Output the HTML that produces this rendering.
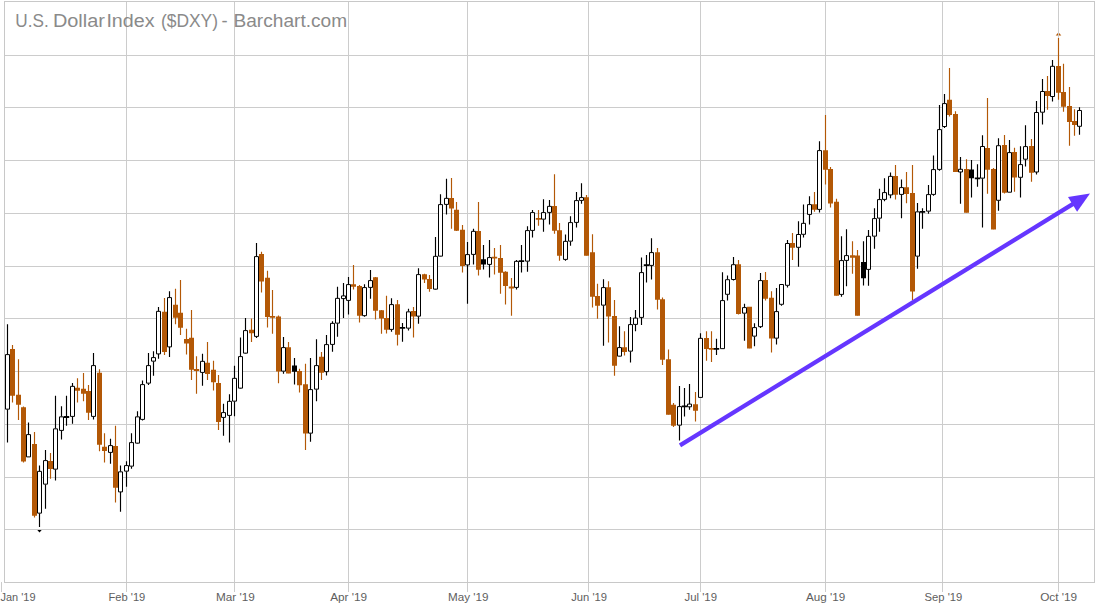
<!DOCTYPE html>
<html><head><meta charset="utf-8"><title>U.S. Dollar Index ($DXY) - Barchart.com</title>
<style>html,body{margin:0;padding:0;background:#fff;overflow:hidden}svg{display:block}body{font-family:"Liberation Sans",sans-serif}</style></head>
<body>
<svg width="1096" height="603" viewBox="0 0 1096 603">
<rect width="1096" height="603" fill="#fff"/>
<path d="M36.9 529.6H42.1L39.5 532.4Z" fill="#000"/>
<path d="M1055.7 35.4H1061.3L1058.5 32.3Z" fill="#b35806"/>
<path d="M4.5 55.5H1094.5M4.5 107.5H1094.5M4.5 160.5H1094.5M4.5 213.5H1094.5M4.5 266.5H1094.5M4.5 318.5H1094.5M4.5 371.5H1094.5M4.5 424.5H1094.5M4.5 477.5H1094.5M4.5 529.5H1094.5M126.5 1.5V592M234.5 1.5V592M348.5 1.5V592M467.5 1.5V592M588.5 1.5V592M700.5 1.5V592M825.5 1.5V592M942.5 1.5V592M1058.5 1.5V592M1.5 582V592" stroke="#cccccc" stroke-width="1" fill="none"/>
<rect x="4.5" y="1.5" width="1090" height="581" fill="none" stroke="#c8c8c8" stroke-width="1"/>
<text x="15.30" y="26.75" font-family="'Liberation Sans', sans-serif" font-size="18.3" fill="#8a8a8a" textLength="33.4" lengthAdjust="spacingAndGlyphs">U.S.</text>
<text x="52.90" y="26.75" font-family="'Liberation Sans', sans-serif" font-size="18.3" fill="#8a8a8a" textLength="52.0" lengthAdjust="spacingAndGlyphs">Dollar</text>
<text x="106.40" y="26.75" font-family="'Liberation Sans', sans-serif" font-size="18.3" fill="#8a8a8a" textLength="48.1" lengthAdjust="spacingAndGlyphs">Index</text>
<text x="160.95" y="26.75" font-family="'Liberation Sans', sans-serif" font-size="18.3" fill="#8a8a8a" textLength="57.1" lengthAdjust="spacingAndGlyphs">($DXY)</text>
<text x="221.50" y="26.75" font-family="'Liberation Sans', sans-serif" font-size="18.3" fill="#8a8a8a" textLength="6.1" lengthAdjust="spacingAndGlyphs">-</text>
<text x="233.50" y="26.75" font-family="'Liberation Sans', sans-serif" font-size="18.3" fill="#8a8a8a" textLength="113.6" lengthAdjust="spacingAndGlyphs">Barchart.com</text>
<text x="0.5" y="600.6" font-family="'Liberation Sans', sans-serif" font-size="11.3" fill="#5e5e5e" textLength="35.0" lengthAdjust="spacingAndGlyphs">Jan '19</text>
<text x="108.5" y="600.6" font-family="'Liberation Sans', sans-serif" font-size="11.3" fill="#5e5e5e" textLength="36.8" lengthAdjust="spacingAndGlyphs">Feb '19</text>
<text x="216.0" y="600.6" font-family="'Liberation Sans', sans-serif" font-size="11.3" fill="#5e5e5e" textLength="38.8" lengthAdjust="spacingAndGlyphs">Mar '19</text>
<text x="330.2" y="600.6" font-family="'Liberation Sans', sans-serif" font-size="11.3" fill="#5e5e5e" textLength="37.0" lengthAdjust="spacingAndGlyphs">Apr '19</text>
<text x="448.0" y="600.6" font-family="'Liberation Sans', sans-serif" font-size="11.3" fill="#5e5e5e" textLength="40.5" lengthAdjust="spacingAndGlyphs">May '19</text>
<text x="571.2" y="600.6" font-family="'Liberation Sans', sans-serif" font-size="11.3" fill="#5e5e5e" textLength="35.8" lengthAdjust="spacingAndGlyphs">Jun '19</text>
<text x="684.5" y="600.6" font-family="'Liberation Sans', sans-serif" font-size="11.3" fill="#5e5e5e" textLength="32.5" lengthAdjust="spacingAndGlyphs">Jul '19</text>
<text x="806.1" y="600.6" font-family="'Liberation Sans', sans-serif" font-size="11.3" fill="#5e5e5e" textLength="39.2" lengthAdjust="spacingAndGlyphs">Aug '19</text>
<text x="924.5" y="600.6" font-family="'Liberation Sans', sans-serif" font-size="11.3" fill="#5e5e5e" textLength="37.8" lengthAdjust="spacingAndGlyphs">Sep '19</text>
<text x="1040.2" y="600.6" font-family="'Liberation Sans', sans-serif" font-size="11.3" fill="#5e5e5e" textLength="37.0" lengthAdjust="spacingAndGlyphs">Oct '19</text>
<path d="M680.0 445.3L1073.5 203.7" stroke="#6536ff" stroke-width="4.3" fill="none"/>
<path d="M1090.0 193.4L1068.0 197.1L1077.1 211.8Z" fill="#6536ff"/>
<path d="M12.5 345.00V402.50M18.5 359.25V420.00M23.5 406.50V462.50M34.5 432.00V517.50M50.5 453.00V478.75M77.5 378.25V402.50M83.5 373.00V401.25M88.5 385.00V420.00M99.5 369.25V451.25M104.5 433.25V462.50M115.5 425.75V502.50M164.5 298.00V355.00M175.5 288.75V324.25M180.5 280.00V335.00M186.5 328.75V354.50M191.5 310.00V380.00M196.5 356.25V393.75M207.5 342.00V380.00M213.5 360.75V390.50M218.5 375.00V430.00M251.5 318.50V342.00M261.5 251.75V292.50M267.5 270.75V327.50M272.5 290.00V333.75M278.5 315.50V383.25M288.5 342.00V373.25M299.5 368.75V392.50M305.5 363.75V450.00M321.5 352.00V380.00M353.5 265.00V289.50M359.5 285.00V322.50M375.5 277.00V319.50M381.5 310.00V333.75M386.5 295.75V333.50M397.5 300.00V345.50M413.5 307.00V337.50M424.5 273.75V283.00M429.5 275.00V291.75M451.5 178.00V228.75M456.5 202.00V231.00M462.5 225.00V272.50M478.5 202.00V275.50M494.5 248.00V274.50M500.5 245.00V293.75M505.5 271.25V304.50M511.5 278.10V315.75M538.5 210.00V225.75M554.5 174.25V233.75M559.5 223.00V260.75M586.5 195.00V255.50M592.5 234.25V307.50M597.5 283.75V318.75M608.5 281.25V342.50M614.5 300.00V375.75M624.5 331.25V355.50M657.5 248.00V309.50M662.5 297.50V365.00M668.5 349.50V414.50M673.5 403.00V427.00M695.5 392.00V421.60M706.5 331.25V360.75M711.5 331.25V362.00M738.5 260.00V314.50M749.5 307.00V348.25M765.5 272.00V300.60M771.5 291.25V352.50M792.5 233.00V259.90M814.5 192.00V211.75M825.5 115.00V184.50M830.5 167.00V207.50M836.5 198.75V295.50M852.5 241.25V273.75M857.5 250.00V315.50M895.5 165.00V199.50M906.5 172.00V203.25M912.5 165.00V300.00M949.5 67.90V116.60M955.5 111.25V171.75M966.5 159.25V212.50M987.5 98.10V193.75M993.5 168.00V229.25M1004.5 135.10V193.50M1014.5 147.80V191.70M1031.5 139.00V181.70M1047.5 76.00V109.70M1058.5 38.00V99.75M1063.5 63.85V111.70M1069.5 87.10V145.70M1074.5 109.20V135.80" stroke="#b35806" stroke-width="1.15" fill="none"/>
<path d="M10.0 349.05h5V395.70h-5ZM16.0 394.80h5V404.70h-5ZM21.0 407.30h5V461.45h-5ZM32.0 444.05h5V515.70h-5ZM48.0 461.05h5V468.95h-5ZM75.0 387.80h5V390.70h-5ZM81.0 388.70h5V393.80h-5ZM86.0 391.05h5V412.70h-5ZM97.0 372.80h5V444.70h-5ZM102.0 446.80h5V450.95h-5ZM113.0 446.05h5V487.70h-5ZM162.0 311.80h5V351.95h-5ZM173.0 304.80h5V317.70h-5ZM178.0 312.80h5V327.70h-5ZM184.0 339.05h5V343.45h-5ZM189.0 337.80h5V369.70h-5ZM193.8 369.10h5.4V370.90h-5.4ZM205.0 362.80h5V373.95h-5ZM211.0 369.80h5V382.20h-5ZM216.0 383.05h5V421.95h-5ZM249.0 329.80h5V333.20h-5ZM259.0 254.05h5V281.45h-5ZM265.0 277.80h5V316.95h-5ZM269.8 315.98h5.4V317.77h-5.4ZM276.0 316.55h5V371.45h-5ZM286.0 347.30h5V373.45h-5ZM297.0 371.05h5V385.20h-5ZM303.0 384.30h5V433.45h-5ZM319.0 356.80h5V372.70h-5ZM351.0 284.30h5V286.70h-5ZM357.0 286.05h5V315.70h-5ZM373.0 277.30h5V310.70h-5ZM379.0 310.30h5V318.45h-5ZM384.0 318.05h5V329.70h-5ZM395.0 304.30h5V334.70h-5ZM411.0 311.05h5V316.45h-5ZM422.0 274.30h5V279.45h-5ZM427.0 279.05h5V288.95h-5ZM449.0 198.05h5V208.45h-5ZM454.0 209.80h5V230.70h-5ZM460.0 229.80h5V265.95h-5ZM476.0 231.05h5V269.70h-5ZM491.8 256.73h5.4V258.52h-5.4ZM498.0 258.05h5V272.70h-5ZM503.0 271.80h5V285.95h-5ZM508.8 286.60h5.4V288.40h-5.4ZM535.8 217.97h5.4V219.78h-5.4ZM552.0 206.05h5V230.70h-5ZM557.0 230.30h5V255.70h-5ZM584.0 197.30h5V255.70h-5ZM590.0 252.30h5V296.70h-5ZM595.0 296.05h5V305.70h-5ZM606.0 287.30h5V316.45h-5ZM612.0 316.05h5V365.70h-5ZM622.0 347.30h5V351.95h-5ZM655.0 252.30h5V299.70h-5ZM660.0 299.30h5V359.70h-5ZM666.0 359.30h5V414.70h-5ZM671.0 404.80h5V425.80h-5ZM693.0 404.20h5V410.80h-5ZM704.0 338.05h5V348.95h-5ZM708.8 347.98h5.4V349.77h-5.4ZM736.0 264.20h5V313.95h-5ZM747.0 306.80h5V348.45h-5ZM763.0 280.00h5V298.70h-5ZM769.0 297.80h5V338.45h-5ZM790.0 243.00h5V247.70h-5ZM812.0 204.30h5V209.70h-5ZM823.0 150.30h5V169.70h-5ZM828.0 169.05h5V203.45h-5ZM834.0 201.80h5V295.70h-5ZM850.0 255.30h5V257.70h-5ZM855.0 255.55h5V315.70h-5ZM893.0 176.05h5V194.70h-5ZM904.0 187.30h5V193.95h-5ZM910.0 193.05h5V291.45h-5ZM947.0 99.80h5V114.95h-5ZM953.0 113.90h5V171.95h-5ZM964.0 169.05h5V212.70h-5ZM985.0 147.90h5V169.70h-5ZM991.0 169.05h5V229.45h-5ZM1002.0 145.10h5V192.80h-5ZM1012.0 152.00h5V177.60h-5ZM1029.0 146.00h5V172.80h-5ZM1045.0 91.00h5V96.00h-5ZM1056.0 65.90h5V92.70h-5ZM1061.0 92.00h5V106.70h-5ZM1067.0 106.00h5V122.00h-5ZM1072.0 120.90h5V125.00h-5Z" fill="#b35806"/>
<path d="M7.5 324.25V354.50M7.5 409.25V442.50M28.5 422.50V434.50M28.5 457.00V457.00M39.5 465.50V471.25M39.5 513.25V527.00M45.5 450.00V460.50M45.5 484.25V508.75M55.5 395.75V428.75M55.5 469.25V480.50M61.5 406.25V416.75M61.5 430.50V439.50M66.5 395.75V425.75M72.5 383.00V386.25M72.5 416.50V423.75M93.5 353.00V365.50M93.5 416.50V419.50M110.5 438.75V445.50M110.5 452.50V463.75M120.5 465.50V471.75M120.5 492.00V511.75M126.5 461.25V465.50M126.5 471.25V486.75M131.5 433.25V442.50M131.5 466.25V468.75M137.5 411.25V416.75M137.5 443.25V443.75M142.5 380.50V384.50M142.5 419.50V420.50M148.5 353.00V365.50M148.5 383.25V385.00M153.5 351.25V357.50M153.5 361.25V375.75M158.5 307.00V311.25M158.5 354.00V358.75M169.5 291.25V297.50M169.5 347.00V357.00M202.5 353.75V361.25M202.5 372.50V385.75M223.5 403.75V412.50M223.5 417.50V435.75M229.5 394.25V401.25M229.5 415.50V442.50M234.5 365.75V378.25M234.5 401.25V416.25M240.5 337.50V356.50M240.5 388.25V388.75M245.5 318.00V330.50M245.5 353.25V353.75M256.5 243.00V256.50M256.5 336.50V338.00M283.5 337.00V347.50M283.5 371.25V373.75M294.5 358.00V384.50M310.5 358.00V389.50M310.5 433.25V441.75M316.5 339.25V365.50M316.5 389.25V401.25M326.5 335.00V344.50M326.5 371.75V375.50M332.5 321.25V323.25M332.5 344.50V351.75M337.5 286.75V298.25M337.5 323.25V336.75M343.5 283.00V296.25M343.5 298.25V318.00M348.5 277.00V284.50M348.5 300.50V314.50M364.5 284.25V287.50M364.5 315.75V316.75M370.5 270.00V280.50M370.5 287.50V298.75M391.5 298.25V304.50M391.5 329.50V331.75M402.5 323.00V341.75M408.5 308.75V311.75M408.5 328.25V330.50M418.5 268.25V274.50M418.5 316.25V323.75M435.5 237.00V256.25M435.5 289.25V289.75M440.5 194.25V204.50M440.5 256.25V256.50M446.5 178.75V198.25M446.5 204.50V214.50M467.5 242.00V254.50M467.5 265.00V303.75M473.5 228.75V231.25M473.5 254.50V264.50M483.5 245.00V269.50M489.5 240.00V257.50M489.5 264.50V277.50M516.5 260.00V261.25M516.5 287.50V289.50M521.5 245.00V272.50M527.5 226.25V230.50M527.5 261.25V271.75M532.5 210.00V212.50M532.5 230.50V237.50M543.5 199.25V212.50M543.5 219.25V231.75M549.5 200.00V206.25M549.5 212.50V224.50M565.5 234.50V241.25M565.5 259.50V260.75M570.5 216.25V222.50M570.5 241.25V245.75M576.5 192.00V200.50M576.5 222.50V227.50M581.5 183.25V197.50M581.5 200.50V203.75M603.5 279.25V287.50M603.5 305.25V345.75M619.5 326.25V347.50M619.5 356.25V356.50M630.5 317.00V324.50M630.5 351.25V362.50M635.5 310.00V318.00M635.5 324.50V331.25M641.5 257.50V272.50M641.5 317.50V325.00M646.5 255.00V282.50M651.5 238.25V252.50M651.5 265.50V279.50M679.5 386.00V406.50M679.5 425.25V440.60M684.5 388.00V416.60M689.5 384.00V404.40M689.5 406.50V409.75M700.5 333.25V338.25M700.5 397.50V397.50M716.5 338.75V355.00M722.5 272.25V300.50M722.5 348.75V348.75M727.5 275.40V279.60M727.5 294.40V300.60M733.5 257.10V264.60M733.5 279.60V280.60M744.5 303.75V307.50M744.5 313.25V340.75M754.5 323.25V327.50M754.5 336.25V346.25M760.5 273.00V280.50M760.5 326.75V328.00M776.5 288.00V311.50M776.5 338.25V344.50M781.5 284.40V284.40M781.5 304.40V305.75M787.5 240.00V243.40M787.5 285.40V287.60M798.5 221.25V234.40M798.5 247.40V266.70M803.5 204.50V223.25M803.5 234.40V237.50M809.5 196.25V204.50M809.5 214.50V224.50M819.5 141.25V150.50M819.5 209.50V212.50M841.5 236.25V260.50M841.5 294.50V296.75M846.5 229.25V255.50M846.5 260.50V286.25M863.5 241.25V285.50M868.5 230.00V236.25M868.5 269.50V285.75M874.5 208.25V218.50M874.5 236.25V248.75M879.5 188.75V199.50M879.5 218.25V231.75M884.5 178.25V192.50M884.5 199.50V201.25M890.5 172.50V176.25M890.5 195.00V198.25M901.5 179.50V187.50M901.5 194.50V218.25M917.5 203.00V211.75M917.5 256.25V268.75M922.5 208.25V228.75M928.5 185.00V194.50M928.5 211.25V213.75M933.5 155.50V169.50M933.5 194.50V195.75M939.5 105.00V129.50M939.5 169.50V170.75M944.5 94.10V103.50M944.5 126.60V128.10M960.5 157.00V169.50M960.5 171.75V203.75M971.5 160.00V197.60M977.5 164.25V186.70M982.5 135.20V146.40M982.5 178.25V227.50M998.5 138.20V145.60M998.5 200.40V210.70M1009.5 140.10V152.50M1009.5 192.30V192.30M1020.5 146.20V164.50M1020.5 177.40V197.60M1025.5 125.20V146.50M1025.5 159.30V166.50M1036.5 101.10V112.40M1036.5 172.10V174.60M1042.5 79.10V91.40M1042.5 112.30V124.60M1052.5 60.10V66.20M1052.5 96.60V101.60M1079.5 107.30V110.40M1079.5 126.40V134.80" stroke="#000" stroke-width="1.15" fill="none"/>
<path d="M5.5 354.60h4V409.15h-4ZM26.5 434.60h4V456.90h-4ZM37.5 471.35h4V513.15h-4ZM43.5 460.60h4V484.15h-4ZM53.5 428.85h4V469.15h-4ZM59.5 416.85h4V430.40h-4ZM70.5 386.35h4V416.40h-4ZM91.5 365.60h4V416.40h-4ZM108.5 445.60h4V452.40h-4ZM118.5 471.85h4V491.90h-4ZM124.5 465.60h4V471.15h-4ZM129.5 442.60h4V466.15h-4ZM135.5 416.85h4V443.15h-4ZM140.5 384.60h4V419.40h-4ZM146.5 365.60h4V383.15h-4ZM151.5 357.60h4V361.15h-4ZM156.5 311.35h4V353.90h-4ZM167.5 297.60h4V346.90h-4ZM200.5 361.35h4V372.40h-4ZM221.5 412.60h4V417.40h-4ZM227.5 401.35h4V415.40h-4ZM232.5 378.35h4V401.15h-4ZM238.5 356.60h4V388.15h-4ZM243.5 330.60h4V353.15h-4ZM254.5 256.60h4V336.40h-4ZM281.5 347.60h4V371.15h-4ZM308.5 389.60h4V433.15h-4ZM314.5 365.60h4V389.15h-4ZM324.5 344.60h4V371.65h-4ZM330.5 323.35h4V344.40h-4ZM335.5 298.35h4V323.15h-4ZM341.5 295.90h4V298.60h-4ZM346.5 284.60h4V300.40h-4ZM362.5 287.60h4V315.65h-4ZM368.5 280.60h4V287.40h-4ZM389.5 304.60h4V329.40h-4ZM406.5 311.85h4V328.15h-4ZM416.5 274.60h4V316.15h-4ZM433.5 256.35h4V289.15h-4ZM438.5 204.60h4V256.15h-4ZM444.5 198.35h4V204.40h-4ZM465.5 254.60h4V264.90h-4ZM471.5 231.35h4V254.40h-4ZM487.5 257.60h4V264.40h-4ZM514.5 261.35h4V287.40h-4ZM525.5 230.60h4V261.15h-4ZM530.5 212.60h4V230.40h-4ZM541.5 212.60h4V219.15h-4ZM547.5 206.35h4V212.40h-4ZM563.5 241.35h4V259.40h-4ZM568.5 222.60h4V241.15h-4ZM574.5 200.60h4V222.40h-4ZM579.5 197.60h4V200.40h-4ZM601.5 287.60h4V305.15h-4ZM617.5 347.60h4V356.15h-4ZM628.5 324.60h4V351.15h-4ZM633.5 318.10h4V324.40h-4ZM639.5 272.60h4V317.40h-4ZM649.5 252.60h4V265.40h-4ZM677.5 406.60h4V425.15h-4ZM687.5 404.10h4V406.80h-4ZM698.5 338.35h4V397.40h-4ZM720.5 300.60h4V348.65h-4ZM725.5 279.70h4V294.30h-4ZM731.5 264.70h4V279.50h-4ZM742.5 307.60h4V313.15h-4ZM752.5 327.60h4V336.15h-4ZM758.5 280.60h4V326.65h-4ZM774.5 311.60h4V338.15h-4ZM779.5 284.50h4V304.30h-4ZM785.5 243.50h4V285.30h-4ZM796.5 234.50h4V247.30h-4ZM801.5 223.35h4V234.30h-4ZM807.5 204.60h4V214.40h-4ZM817.5 150.60h4V209.40h-4ZM839.5 260.60h4V294.40h-4ZM844.5 255.60h4V260.40h-4ZM866.5 236.35h4V269.40h-4ZM872.5 218.60h4V236.15h-4ZM877.5 199.60h4V218.15h-4ZM882.5 192.60h4V199.40h-4ZM888.5 176.35h4V194.90h-4ZM899.5 187.60h4V194.40h-4ZM915.5 211.85h4V256.15h-4ZM926.5 194.60h4V211.15h-4ZM931.5 169.60h4V194.40h-4ZM937.5 129.60h4V169.40h-4ZM942.5 103.60h4V126.50h-4ZM958.5 169.28h4V171.97h-4ZM980.5 146.50h4V178.15h-4ZM996.5 145.70h4V200.30h-4ZM1007.5 152.60h4V192.20h-4ZM1018.5 164.60h4V177.30h-4ZM1023.5 146.60h4V159.20h-4ZM1034.5 112.50h4V172.00h-4ZM1040.5 91.50h4V112.20h-4ZM1050.5 66.30h4V96.50h-4ZM1077.5 110.50h4V126.30h-4Z" fill="#fff" stroke="#000" stroke-width="1"/>
<path d="M63.8 416.10h5.4V417.90h-5.4ZM292.0 365.50h5V371.75h-5ZM399.8 326.98h5.4V328.77h-5.4ZM481.0 259.25h5V264.50h-5ZM518.8 260.23h5.4V262.02h-5.4ZM643.8 264.23h5.4V266.02h-5.4ZM681.8 405.48h5.4V407.27h-5.4ZM713.8 347.98h5.4V349.77h-5.4ZM861.0 262.00h5V278.25h-5ZM919.8 210.97h5.4V212.78h-5.4ZM969.0 169.50h5V178.25h-5ZM974.8 177.47h5.4V179.28h-5.4Z" fill="#000"/>
</svg>
</body></html>
